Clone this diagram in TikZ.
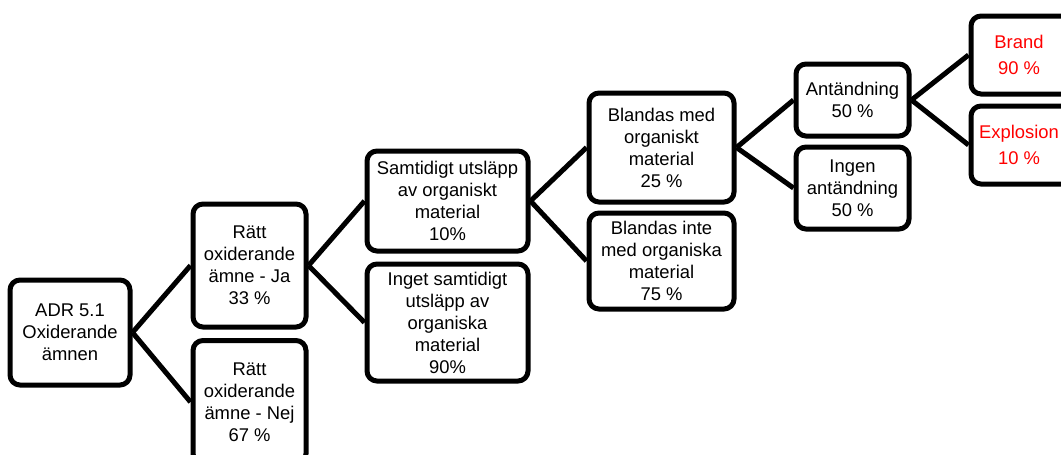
\documentclass[tikz,border=0pt]{standalone}
\usepackage{fontspec}
\setmainfont{Liberation Sans}
\begin{document}
\begin{tikzpicture}[x=0.75pt,y=-0.75pt,
  box/.style={draw=black,line width=3.75pt,rounded corners=7.5pt,fill=white,
    inner sep=0pt,align=center,font=\fontsize{13.8}{16.5}\selectfont},
  red/.style={text=red},
  conn/.style={draw=black,line width=3.75pt}]
\useasboundingbox (0,0) rectangle (1061,454);
\clip (0,0) rectangle (1061,454);
\node[box,minimum width=90pt,minimum height=78.75pt] (adr) at (70,332.5) {ADR 5.1\\Oxiderande\\ämnen};
\node[box,minimum width=84.75pt,minimum height=92.25pt] (ja) at (249.5,265.5) {Rätt\\oxiderande\\ämne - Ja\\33 \%};
\node[box,minimum width=84.75pt,minimum height=92.25pt] (nej) at (249.5,402) {Rätt\\oxiderande\\ämne - Nej\\67 \%};
\node[box,minimum width=120.75pt,minimum height=75pt] (sam) at (447.5,201) {Samtidigt utsläpp\\av organiskt\\material\\10\%};
\node[box,minimum width=120.75pt,minimum height=87.75pt] (inget) at (447.5,322.5) {Inget samtidigt\\utsläpp av\\organiska\\material\\90\%};
\node[box,minimum width=108.75pt,minimum height=81.75pt] (bm) at (661.5,147.5) {Blandas med\\organiskt\\material\\25 \%};
\node[box,minimum width=108.75pt,minimum height=72pt] (bi) at (661.5,261) {Blandas inte\\med organiska\\material\\75 \%};
\node[box,minimum width=84.75pt,minimum height=54pt] (ant) at (852.5,100) {Antändning\\50 \%};
\node[box,minimum width=84.75pt,minimum height=61.5pt] (ingen) at (852.5,188) {Ingen\\antändning\\50 \%};
\node[box,red,minimum width=84pt,minimum height=58.5pt] (brand) at (1027,55) {\hspace*{-12pt}Brand\\[3pt]\hspace*{-12pt}90 \%};
\node[box,red,minimum width=84pt,minimum height=58.5pt] (expl) at (1027,145) {\hspace*{-12pt}Explosion\\[3pt]\hspace*{-12pt}10 \%};
\draw[conn] (adr.east) -- (ja.west);
\draw[conn] (adr.east) -- (nej.west);
\draw[conn] (ja.east) -- (sam.west);
\draw[conn] (ja.east) -- (inget.west);
\draw[conn] (sam.east) -- (bm.west);
\draw[conn] (sam.east) -- (bi.west);
\draw[conn] (bm.east) -- (ant.west);
\draw[conn] (bm.east) -- (ingen.west);
\draw[conn] (ant.east) -- (brand.west);
\draw[conn] (ant.east) -- (expl.west);
\end{tikzpicture}
\end{document}
